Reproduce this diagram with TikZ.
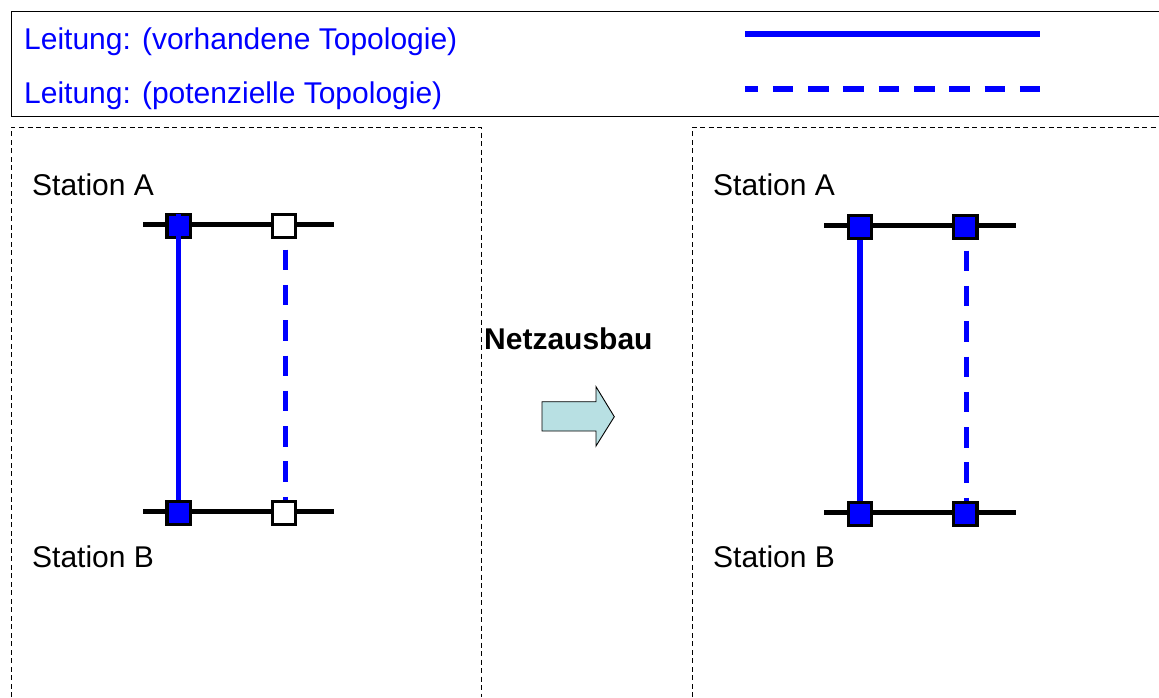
\documentclass[tikz,border=0pt]{standalone}
\usepackage{fontspec}
\usepackage{xcolor}
\setmainfont{Liberation Sans}
\definecolor{arrowfill}{HTML}{B8E0E3}

\tikzset{
  legendtext/.style={anchor=base west, text=blue, inner sep=0pt, font=\fontsize{30}{34}\selectfont},
  stationtext/.style={anchor=base west, inner sep=0pt, font=\fontsize{30}{34}\selectfont},
  busbar/.style={line width=5pt},
  station/.style={draw=black, line width=3.2pt, minimum size=23.5pt, inner sep=0pt},
  solidline/.style={blue, line width=5.3pt},
  dashline/.style={blue, line width=5.3pt, dash pattern=on 20.5pt off 14.8pt},
  panel/.style={line width=1pt, dash pattern=on 5pt off 3.5pt}
}

\begin{document}
\begin{tikzpicture}[x=1pt, y=-1pt]
\useasboundingbox (0,0) rectangle (1159,697);

% Legend box
\draw[line width=1pt] (1159,11.5) -- (11,11.5) -- (11,116) -- (1159,116);
\node[legendtext] (legendsolid) at (24,49) {Leitung: (vorhandene Topologie)};
\node[legendtext] (legenddash) at (24,103.5) {Leitung: (potenzielle Topologie)};
\coordinate (solidstart) at (745,34);
\coordinate (solidend) at (1040,34);
\coordinate (dashstart) at (745,89);
\coordinate (dashend) at (1040,89);
\draw[solidline] (solidstart) -- (solidend);
\draw[dashline, dash phase=7.5pt] (dashstart) -- (dashend);

% Dashed panels
\draw[panel] (11,697) -- (11,127) -- (481,127) -- (481,697);
\draw[panel] (692,697) -- (692,127) -- (1159,127);

% Left panel
\node[stationtext] (leftA) at (32,195) {Station A};
\node[stationtext] (leftB) at (32,567) {Station B};
\coordinate (leftbusAw) at (143,224.5);
\coordinate (leftbusAe) at (334,224.5);
\coordinate (leftbusBw) at (143,511.5);
\coordinate (leftbusBe) at (334,511.5);
\draw[busbar] (leftbusAw) -- (leftbusAe);
\draw[busbar] (leftbusBw) -- (leftbusBe);
\node[station, fill=blue] (leftA1) at (178.7,226) {};
\node[station, fill=white] (leftA2) at (284,226) {};
\node[station, fill=blue] (leftB1) at (178.7,513) {};
\node[station, fill=white] (leftB2) at (284,513) {};
\draw[solidline] ([yshift=-1.5pt]leftA1.north) -- (leftB1.north);
\draw[dashline, dash phase=25pt] ([xshift=1.3pt]leftA2.south) -- ([xshift=1.3pt]leftB2.north);

% Arrow between the panels
\node[anchor=base west, inner sep=0pt, font=\bfseries\fontsize{30}{34}\selectfont] (growth) at (484,349) {Netzausbau};
\draw[fill=arrowfill, line width=0.9pt] (542,401.7) -- (596,401.7) -- (596,386.7) -- (614.3,416.7)
  -- (596,446) -- (596,431) -- (542,431) -- cycle;

% Right panel
\node[stationtext] (rightA) at (713,195) {Station A};
\node[stationtext] (rightB) at (713,567) {Station B};
\coordinate (rightbusAw) at (824,225.5);
\coordinate (rightbusAe) at (1016,225.5);
\coordinate (rightbusBw) at (824,512.3);
\coordinate (rightbusBe) at (1016,512.3);
\draw[busbar] (rightbusAw) -- (rightbusAe);
\draw[busbar] (rightbusBw) -- (rightbusBe);
\node[station, fill=blue] (rightA1) at (860,227) {};
\node[station, fill=blue] (rightA2) at (965.3,227) {};
\node[station, fill=blue] (rightB1) at (860,514) {};
\node[station, fill=blue] (rightB2) at (965.3,514) {};
\draw[solidline] (rightA1.south) -- (rightB1.north);
\draw[dashline, dash phase=25pt] ([xshift=1.4pt]rightA2.south) -- ([xshift=1.4pt]rightB2.north);

\end{tikzpicture}
\end{document}
